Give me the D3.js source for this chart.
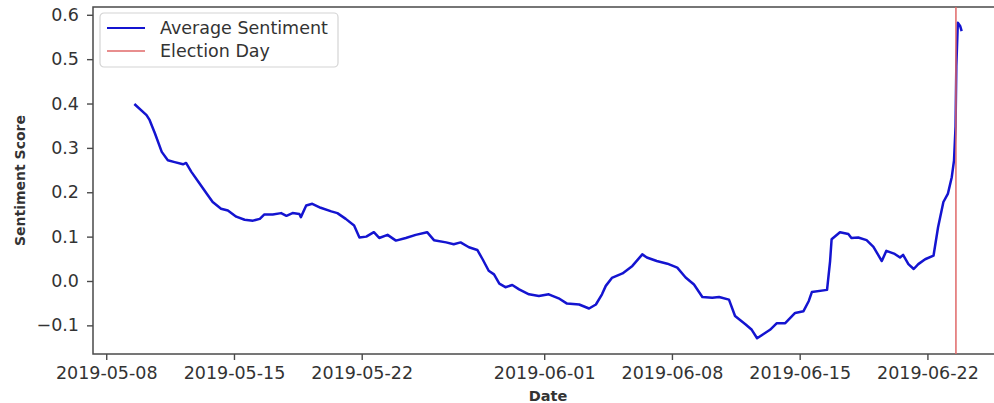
<!DOCTYPE html>
<html lang='en'>

<head>
   <meta charset='UTF-8'>
   <title>Average Sentiment</title>
   <script src='https://d3js.org/d3.v7.min.js'></script>
   <style>
      body {
         margin: 0;
         background: #fff;
      }

      svg {
         display: block;
         font-family: 'DejaVu Sans', sans-serif;
      }
   </style>
</head>

<body>
   <div id='svg-container'></div>
   <script>

      // rolling average sentiment
      const dates = [
         '2019-05-09 13:00', '2019-05-10 05:00', '2019-05-10 09:00', '2019-05-10 16:00', '2019-05-11 01:00',
         '2019-05-11 09:00', '2019-05-11 18:00', '2019-05-12 05:00', '2019-05-12 09:00', '2019-05-12 16:00',
         '2019-05-13 03:00', '2019-05-13 12:00', '2019-05-13 20:00', '2019-05-14 07:00', '2019-05-14 16:00',
         '2019-05-15 03:00', '2019-05-15 14:00', '2019-05-16 01:00', '2019-05-16 10:00', '2019-05-16 16:00',
         '2019-05-17 03:00', '2019-05-17 14:00', '2019-05-17 21:00', '2019-05-18 05:00', '2019-05-18 14:00',
         '2019-05-18 16:00', '2019-05-18 23:00', '2019-05-19 07:00', '2019-05-19 18:00', '2019-05-20 08:00',
         '2019-05-20 16:00', '2019-05-21 03:00', '2019-05-21 14:00', '2019-05-21 21:00', '2019-05-22 06:00',
         '2019-05-22 16:00', '2019-05-22 23:00', '2019-05-23 10:00', '2019-05-23 21:00', '2019-05-24 10:00',
         '2019-05-24 23:00', '2019-05-25 14:00', '2019-05-25 23:00', '2019-05-26 15:00', '2019-05-27 01:00',
         '2019-05-27 10:00', '2019-05-27 21:00', '2019-05-28 08:00', '2019-05-28 15:00', '2019-05-28 23:00',
         '2019-05-29 06:00', '2019-05-29 13:00', '2019-05-29 21:00', '2019-05-30 06:00', '2019-05-30 15:00',
         '2019-05-31 04:00', '2019-05-31 17:00', '2019-06-01 06:00', '2019-06-01 19:00', '2019-06-02 06:00',
         '2019-06-02 22:00', '2019-06-03 11:00', '2019-06-03 20:00', '2019-06-04 04:00', '2019-06-04 09:00',
         '2019-06-04 17:00', '2019-06-05 07:00', '2019-06-05 20:00', '2019-06-06 09:00', '2019-06-06 15:00',
         '2019-06-07 04:00', '2019-06-07 18:00', '2019-06-08 07:00', '2019-06-08 18:00', '2019-06-09 05:00',
         '2019-06-09 16:00', '2019-06-10 05:00', '2019-06-10 14:00', '2019-06-11 03:00', '2019-06-11 11:00',
         '2019-06-12 01:00', '2019-06-12 09:00', '2019-06-12 16:00', '2019-06-13 01:00', '2019-06-13 09:00',
         '2019-06-13 18:00', '2019-06-14 05:00', '2019-06-14 18:00', '2019-06-15 05:00', '2019-06-15 12:00',
         '2019-06-15 16:00', '2019-06-16 12:00', '2019-06-16 16:00', '2019-06-16 18:00', '2019-06-17 05:00',
         '2019-06-17 16:00', '2019-06-17 20:00', '2019-06-18 05:00', '2019-06-18 16:00', '2019-06-19 01:00',
         '2019-06-19 12:00', '2019-06-19 18:00', '2019-06-20 05:00', '2019-06-20 12:00', '2019-06-20 16:00',
         '2019-06-20 23:00', '2019-06-21 06:00', '2019-06-21 12:00', '2019-06-21 21:00', '2019-06-22 08:00',
         '2019-06-22 14:00', '2019-06-22 21:00', '2019-06-23 03:00', '2019-06-23 08:00', '2019-06-23 11:00',
         '2019-06-23 13:00', '2019-06-23 14:00', '2019-06-23 16:00', '2019-06-23 19:00', '2019-06-23 21:00'
      ];

      const scores = [
         0.399, 0.374, 0.363, 0.333, 0.291,
         0.272, 0.268, 0.263, 0.266, 0.246,
         0.219, 0.197, 0.178, 0.163, 0.159,
         0.145, 0.138, 0.136, 0.140, 0.150,
         0.150, 0.153, 0.147, 0.153, 0.151,
         0.144, 0.170, 0.174, 0.165, 0.157,
         0.153, 0.140, 0.125, 0.098, 0.100,
         0.110, 0.097, 0.104, 0.091, 0.097,
         0.104, 0.110, 0.092, 0.087, 0.083,
         0.087, 0.076, 0.070, 0.049, 0.023,
         0.015, -0.006, -0.014, -0.009, -0.019,
         -0.030, -0.034, -0.030, -0.039, -0.051,
         -0.053, -0.062, -0.053, -0.030, -0.011,
         0.007, 0.017, 0.034, 0.060, 0.053,
         0.045, 0.039, 0.030, 0.008, -0.008,
         -0.036, -0.038, -0.036, -0.042, -0.079,
         -0.098, -0.110, -0.129, -0.119, -0.110,
         -0.095, -0.095, -0.072, -0.068, -0.045,
         -0.025, -0.020, 0.045, 0.094, 0.110,
         0.106, 0.097, 0.098, 0.092, 0.077,
         0.045, 0.068, 0.061, 0.053, 0.059,
         0.038, 0.027, 0.038, 0.049, 0.057,
         0.121, 0.178, 0.197, 0.234, 0.272,
         0.348, 0.484, 0.582, 0.575, 0.563
      ];

      const electionDay = '2019-06-23 13:30';
      const xTickDates = ['2019-05-08', '2019-05-15', '2019-05-22', '2019-06-01', '2019-06-08', '2019-06-15', '2019-06-22'];
      const yTicks = [-0.1, 0.0, 0.1, 0.2, 0.3, 0.4, 0.5, 0.6];
      const legendLabels = ['Average Sentiment', 'Election Day'];

      const parseTime = d3.timeParse('%Y-%m-%d %H:%M');
      const parseDay = d3.timeParse('%Y-%m-%d');
      const data = dates.map((d, i) => ({ date: parseTime(d), score: scores[i] }));

      const W = 994, H = 403;
      // plot box: right spine sits just past the picture edge
      const box = { left: 93, right: 1003, top: 7, bottom: 354 };
      const textColour = '#333';
      const blue = '#1414d0';
      const red = '#e06868';

      const canvas = d3.select('#svg-container').append('svg').attr('width', W).attr('height', H);

      // matplotlib style 5% margins
      const [t0, t1] = d3.extent(data, d => d.date);
      const tPad = (t1 - t0) * 0.05;
      const x = d3.scaleTime()
         .domain([new Date(+t0 - tPad), new Date(+t1 + tPad)])
         .range([box.left, box.right]);

      const [v0, v1] = d3.extent(scores);
      const vPad = (v1 - v0) * 0.05;
      const y = d3.scaleLinear()
         .domain([v0 - vPad, v1 + vPad])
         .range([box.bottom, box.top]);

      const leftAxisCall = d3.axisLeft(y).tickValues(yTicks).tickFormat(d3.format('.1f')).tickSize(6).tickPadding(8);
      const yAxis = canvas.append('g').attr('transform', `translate(${box.left}, 0)`).call(leftAxisCall);

      const bottomAxisCall = d3.axisBottom(x).tickValues(xTickDates.map(parseDay))
         .tickFormat(d3.timeFormat('%Y-%m-%d')).tickSize(6).tickPadding(7);
      const xAxis = canvas.append('g').attr('transform', `translate(0, ${box.bottom})`).call(bottomAxisCall);

      [xAxis, yAxis].forEach(a => {
         a.select('.domain').remove();
         a.selectAll('.tick line').attr('stroke', '#4a4a4a').attr('stroke-width', 1.4);
         a.selectAll('.tick text').attr('fill', textColour).style('font-size', '17.5px').style('font-family', 'DejaVu Sans');
      });

      // spines
      canvas.append('rect')
         .attr('x', box.left).attr('y', box.top)
         .attr('width', box.right - box.left).attr('height', box.bottom - box.top)
         .attr('fill', 'none').attr('stroke', '#4a4a4a').attr('stroke-width', 1.5);

      const line = d3.line()
         .x(d => x(d.date))
         .y(d => y(d.score));

      canvas.append('path')
         .attr('fill', 'none')
         .attr('stroke', blue)
         .attr('stroke-width', 2.5)
         .attr('stroke-linejoin', 'round')
         .attr('d', line(data));

      canvas.append('line')
         .attr('x1', x(parseTime(electionDay))).attr('x2', x(parseTime(electionDay)))
         .attr('y1', box.top).attr('y2', box.bottom)
         .attr('stroke', red).attr('stroke-width', 1.5);

      // axis titles
      canvas.append('text')
         .attr('x', (box.left + box.right) / 2)
         .attr('y', 401)
         .attr('text-anchor', 'middle')
         .attr('fill', textColour)
         .style('font-size', '14.5px')
         .style('font-weight', 'bold')
         .text('Date');

      canvas.append('text')
         .attr('transform', `translate(25, ${(box.top + box.bottom) / 2}) rotate(-90)`)
         .attr('text-anchor', 'middle')
         .attr('fill', textColour)
         .style('font-size', '14px')
         .style('font-weight', 'bold')
         .text('Sentiment Score');

      // legend
      const legend = canvas.append('g').attr('transform', 'translate(100, 13)');
      legend.append('rect')
         .attr('width', 238).attr('height', 54).attr('rx', 4)
         .attr('fill', '#fff').attr('fill-opacity', 0.8)
         .attr('stroke', '#d4d4d4').attr('stroke-width', 1.2);

      const legendColours = [blue, red];
      const legendWidths = [2.2, 1.5];
      legendLabels.forEach((label, i) => {
         const row = legend.append('g').attr('transform', `translate(0, ${15 + i * 23})`);
         row.append('line')
            .attr('x1', 7).attr('x2', 45)
            .attr('stroke', legendColours[i]).attr('stroke-width', legendWidths[i]);
         row.append('text')
            .attr('x', 60).attr('dy', '0.35em')
            .attr('fill', textColour)
            .style('font-size', '17.5px')
            .text(label);
      });

   </script>
</body>

</html>
